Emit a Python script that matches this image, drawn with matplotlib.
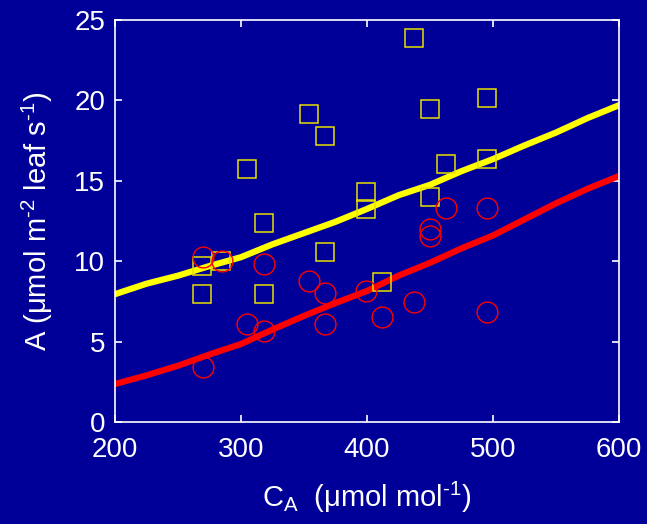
import matplotlib
matplotlib.use("Agg")
import matplotlib.pyplot as plt

# Data
sq_x = [269, 284, 269, 305, 318, 318, 354, 367, 367, 399, 399, 412, 437, 450, 450, 463, 495, 495]
sq_y = [9.70, 9.99, 7.94, 15.73, 12.36, 7.94, 19.15, 17.8, 10.59, 14.28, 13.25, 8.69, 23.86, 19.45, 13.99, 16.04, 20.17, 16.33]

ci_x = [270, 270, 285, 305, 318, 318, 354, 367, 367, 399, 412, 437, 450, 450, 463, 495, 495]
ci_y = [10.26, 3.44, 9.99, 6.11, 9.81, 5.66, 8.77, 8.04, 6.11, 8.17, 6.55, 7.44, 12.02, 11.57, 13.33, 13.33, 6.84]

line_x = [200, 225, 250, 275, 300, 325, 350, 375, 400, 425, 450, 475, 500, 525, 550, 575, 600]
yellow_y = [7.95, 8.6, 9.1, 9.7, 10.25, 11.05, 11.75, 12.45, 13.25, 14.1, 14.75, 15.6, 16.35, 17.2, 18.0, 18.9, 19.7]
red_y = [2.36, 2.9, 3.5, 4.2, 4.85, 5.75, 6.6, 7.4, 8.15, 9.1, 9.9, 10.8, 11.6, 12.6, 13.6, 14.5, 15.3]

x_ticks = [200, 300, 400, 500, 600]
y_ticks = [0, 5, 10, 15, 20, 25]

bg = '#000099'
plt.rcParams['font.family'] = ['Liberation Sans', 'DejaVu Sans']
plt.rcParams['mathtext.fontset'] = 'custom'
plt.rcParams['mathtext.rm'] = 'Liberation Sans'
plt.rcParams['mathtext.it'] = 'Liberation Sans'

fig = plt.figure(figsize=(6.47, 5.24), dpi=100, facecolor=bg)
ax = fig.add_axes([115/647, 102/524, 504/647, 402/524], facecolor=bg)

ax.plot(line_x, yellow_y, color='#ffff00', lw=4.5, solid_capstyle='round', zorder=2)
ax.plot(line_x, red_y, color='#ff0000', lw=4.5, solid_capstyle='round', zorder=2)
ax.plot(sq_x, sq_y, 's', ms=13.5, mfc='none', mec='#e8e000', mew=1.1, zorder=3)
ax.plot(ci_x, ci_y, 'o', ms=15, mfc='none', mec='#ff0000', mew=1.0, zorder=3)

ax.set_xlim(200, 600)
ax.set_ylim(0, 25)
ax.set_xticks(x_ticks)
ax.set_yticks(y_ticks)
for s in ax.spines.values():
    s.set_color('white')
    s.set_linewidth(1.2)
ax.tick_params(direction='in', length=5, width=1.2, colors='white', labelsize=20,
               top=True, right=True)
ax.tick_params(axis='x', pad=11)
ax.tick_params(axis='y', pad=7)
for lab in ax.get_xticklabels() + ax.get_yticklabels():
    lab.set_color('white')

ax.set_xlabel('C$_\\mathrm{A}$  (\u03bcmol mol$^{\\mathrm{\u2010}1}$)', color='white', fontsize=21, labelpad=12)
ax.set_ylabel('A (\u03bcmol m$^{\\mathrm{\u2010}2}$ leaf s$^{\\mathrm{\u2010}1}$)', color='white', fontsize=21, labelpad=14)

fig.savefig('out.png', dpi=100, facecolor=bg)
